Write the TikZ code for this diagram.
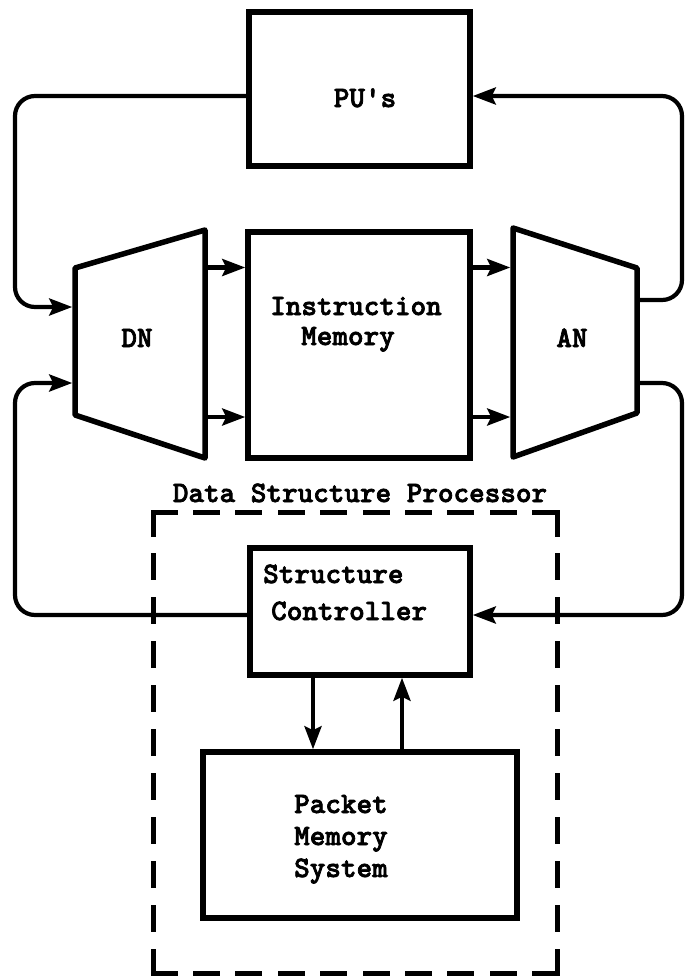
\documentclass[tikz,border=0pt]{standalone}
\usepackage{fontspec}
\newfontfamily\typewriter{lmmonolt10-bold}[Extension=.otf, FakeBold=2.4]
\usetikzlibrary{arrows.meta,calc}

\begin{document}
\begin{tikzpicture}[x=1pt,y=-1pt,
  box/.style={draw, line width=5.5pt, rectangle, inner sep=0pt},
  shell/.style={inner sep=0pt, outer sep=2.75pt},
  trap/.style={line width=5.5pt, line join=round},
  wire/.style={line width=4.2pt},
  arr/.style={wire, -{Stealth[length=23pt,width=17pt,inset=4pt]}},
  loop/.style={arr, rounded corners=20pt},
  txt/.style={font=\typewriter\fontsize{29.7}{34}\selectfont, inner sep=0pt},
  hdash/.style={line width=5pt, line cap=rect, dash pattern=on 22pt off 20.4pt},
  vdash/.style={line width=5pt, line cap=rect, dash pattern=on 22pt off 21.9pt}]
\useasboundingbox (0,0) rectangle (685,978);

% rectangular units
\node[box, minimum width=221pt, minimum height=154pt] (pu) at (359.5,89) {};
\node[box, minimum width=222pt, minimum height=226pt] (im) at (359,345) {};
\node[box, minimum width=220pt, minimum height=127pt] (sc) at (360,611.5) {};
\node[box, minimum width=314pt, minimum height=166pt] (pm) at (360,835) {};

% distribution and arbitration networks (trapezoids)
\node[shell, minimum width=130pt, minimum height=228pt] (dn) at (140,344) {};
\node[shell, minimum width=124pt, minimum height=229pt] (an) at (575,342.5) {};
\draw[trap] (75,268) -- (205,230) -- (205,458) -- (75,415) -- cycle;
\draw[trap] (513,228) -- (637,268) -- (637,413) -- (513,457) -- cycle;

% labels
\node[txt, anchor=base] (tpu) at (365,107) {PU's};
\node[txt, anchor=base] (tim1) at (356,315) {Instruction};
\node[txt, anchor=base] (tim2) at (348,345) {Memory};
\node[txt, anchor=base] (tdn) at (137,347) {DN};
\node[txt, anchor=base] (tan) at (572,347) {AN};
\node[txt, anchor=base] (tdsp) at (360,502) {Data Structure Processor};
\node[txt, anchor=base west] (tsc1) at (263,583) {Structure};
\node[txt, anchor=base west] (tsc2) at (271,620) {Controller};
\node[txt, anchor=base west] (tpm1) at (294,813) {Packet};
\node[txt, anchor=base west] (tpm2) at (294,845) {Memory};
\node[txt, anchor=base west] (tpm3) at (294,877) {System};

% dashed outline of the data structure processor
\coordinate (fTL) at (153,512);
\coordinate (fTR) at (557,512);
\coordinate (fBR) at (557,973);
\coordinate (fBL) at (153,973);
\draw[hdash] (fTL) -- (fTR);
\draw[hdash] (fBL) -- (fBR);
\draw[vdash] (fTL) -- (fBL);
\draw[vdash] (fTR) -- (fBR);

% signal levels and loop columns
\coordinate (yPU) at (0,96);
\coordinate (yDNa) at (0,307);
\coordinate (yDNb) at (0,383);
\coordinate (yTop) at (0,267.5);
\coordinate (yBot) at (0,417);
\coordinate (yANa) at (0,300);
\coordinate (yANb) at (0,383);
\coordinate (ySC) at (0,615);
\coordinate (xL) at (15,0);
\coordinate (xR) at (682,0);
\coordinate (xDown) at (313,0);
\coordinate (xUp) at (402,0);

% outer loops
\draw[loop] (pu.west |- yPU) -| (xL |- yDNa) -- (dn.west |- yDNa);
\draw[loop] (an.east |- yANa) -| (xR |- yPU) -- (pu.east |- yPU);
\draw[loop] (an.east |- yANb) -| (xR |- ySC) -- (sc.east |- ySC);
\draw[loop] (sc.west |- ySC) -| (xL |- yDNb) -- (dn.west |- yDNb);

% through the instruction memory
\draw[arr] (dn.east |- yTop) -- (im.west |- yTop);
\draw[arr] (dn.east |- yBot) -- (im.west |- yBot);
\draw[arr] (im.east |- yTop) -- (an.west |- yTop);
\draw[arr] (im.east |- yBot) -- (an.west |- yBot);

% controller and packet memory
\draw[arr] (sc.south -| xDown) -- (pm.north -| xDown);
\draw[arr] (pm.north -| xUp) -- (sc.south -| xUp);
\end{tikzpicture}
\end{document}
